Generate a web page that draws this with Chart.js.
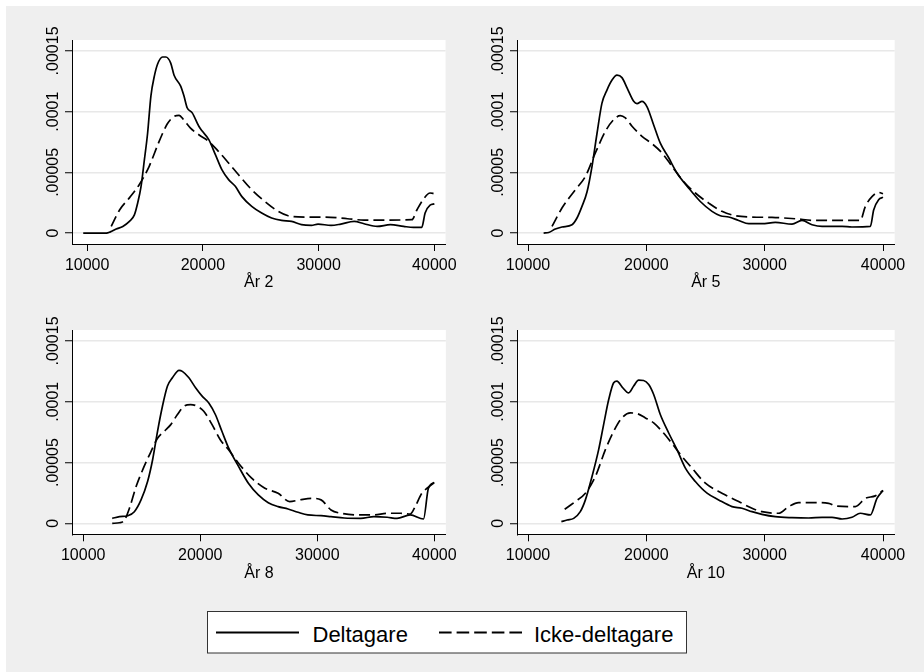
<!DOCTYPE html>
<html>
<head>
<meta charset="utf-8">
<script src="https://cdn.jsdelivr.net/npm/chart.js@4/dist/chart.umd.min.js"></script>
<style>
  html, body { margin:0; padding:0; background:#fff; width:924px; height:672px; overflow:hidden; }
  #bg { position:absolute; left:6px; top:6px; width:918px; height:666px; background:#efefef; }
  canvas { position:absolute; }
  #legend { position:absolute; left:0; top:0; }
</style>
</head>
<body>
<div id="bg"></div>
<canvas id="c1" width="462" height="300" style="left:0px;top:0px"></canvas>
<canvas id="c2" width="462" height="300" style="left:462px;top:0px"></canvas>
<canvas id="c3" width="462" height="300" style="left:0px;top:300px"></canvas>
<canvas id="c4" width="462" height="300" style="left:462px;top:300px"></canvas>
<svg id="legend" width="924" height="672">
  <rect x="207.5" y="611.5" width="479" height="41.5" fill="#fff" stroke="#333" stroke-width="1"/>
  <line x1="216" y1="632.5" x2="299" y2="632.5" stroke="#000" stroke-width="2"/>
  <text id="lg1" x="312.5" y="641.5" font-family="Liberation Sans, Arial, sans-serif" font-size="22" fill="#000"></text>
  <line x1="439" y1="632.5" x2="522" y2="632.5" stroke="#000" stroke-width="2" stroke-dasharray="12.6 5"/>
  <text id="lg2" x="534" y="641.5" font-family="Liberation Sans, Arial, sans-serif" font-size="22" fill="#000"></text>
</svg>
<script>
// ---------- data ----------
const seriesNames = ['Deltagare', 'Icke-deltagare'];
const panelTitles = ['År 2', 'År 5', 'År 8', 'År 10'];
const xTickValues = [10000, 20000, 30000, 40000];
const xTickLabels = ['10000', '20000', '30000', '40000'];
const yTickValues = [0, 0.00005, 0.0001, 0.00015];
const yTickLabels = ['0', '.00005', '.0001', '.00015'];

// År 2
const ar2DeltX = [9660,11660,12000,12510,13080,13650,14080,14370,14650,14940,15220,15510,15800,16080,16510,16800,17220,17510,18080,18360,18650,19080,19650,19940,20510,21080,21650,22220,22800,23370,24220,25080,25940,26800,27660,28520,29380,29950,31070,31920,33070,33920,35060,36200,37340,38200,38910,39200,39630,40000];
const ar2DeltY = [0,0,1e-6,3.3e-6,5.5e-6,9.6e-6,1.5e-5,2.5e-5,3.8e-5,6.0e-5,8.2e-5,1.13e-4,1.29e-4,1.39e-4,1.45e-4,1.45e-4,1.40e-4,1.30e-4,1.21e-4,1.13e-4,1.03e-4,9.9e-5,8.8e-5,8.4e-5,7.7e-5,6.46e-5,5.2e-5,4.4e-5,3.85e-5,3.0e-5,2.2e-5,1.65e-5,1.24e-5,1.04e-5,9.6e-6,6.9e-6,6.3e-6,7.4e-6,6.3e-6,7.4e-6,9.6e-6,7.7e-6,5.5e-6,6.9e-6,5.5e-6,4.7e-6,4.7e-6,1.65e-5,2.3e-5,2.4e-5];
const ar2IckeX = [12080,12800,13650,14510,15360,16220,16930,17510,17940,18360,18930,19650,20510,21370,22220,23080,24220,25360,26510,27370,28800,30500,32500,33920,35920,38060,38490,39060,39630,40000];
const ar2IckeY = [5.5e-6,1.9e-5,2.9e-5,4.0e-5,5.5e-5,7.55e-5,9.0e-5,9.6e-5,9.7e-5,9.3e-5,8.65e-5,8.1e-5,7.55e-5,6.7e-5,5.77e-5,4.8e-5,3.57e-5,2.6e-5,1.79e-5,1.43e-5,1.32e-5,1.32e-5,1.18e-5,1.07e-5,1.07e-5,1.1e-5,1.9e-5,2.8e-5,3.3e-5,3.24e-5];

// År 5
const ar5DeltX = [11320,11750,12310,12870,13720,14140,14560,14990,15410,15830,16250,16680,17100,17520,17940,18370,18930,19210,19630,20060,20620,21180,21890,22590,23580,24560,25550,26250,26960,27800,28650,29770,30900,32310,33150,34000,34850,36540,37380,38930,39210,39630,40000];
const ar5DeltY = [0,0.5e-6,3.3e-6,5e-6,6.9e-6,1.24e-5,2.2e-5,3.4e-5,5.5e-5,8.2e-5,1.07e-4,1.18e-4,1.26e-4,1.30e-4,1.28e-4,1.195e-4,1.085e-4,1.066e-4,1.085e-4,1.04e-4,8.9e-5,7.4e-5,6.2e-5,4.95e-5,3.7e-5,2.6e-5,1.79e-5,1.43e-5,1.32e-5,1.04e-5,7.7e-6,7.7e-6,8.8e-6,7.4e-6,1.04e-5,6.9e-6,5.5e-6,5.5e-6,5e-6,5.5e-6,1.9e-5,2.75e-5,2.94e-5];
const ar5IckeX = [12030,12870,14000,14850,15690,16540,17240,17800,18230,18790,19630,20480,21320,22170,23010,24140,25270,26390,27520,28930,30620,32590,34280,36250,38080,38510,39070,39630,40000];
const ar5IckeY = [5.5e-6,2.06e-5,3.57e-5,4.67e-5,6.6e-5,8.38e-5,9.34e-5,9.67e-5,9.48e-5,8.8e-5,7.97e-5,7.36e-5,6.6e-5,5.5e-5,4.4e-5,3.3e-5,2.47e-5,1.79e-5,1.43e-5,1.32e-5,1.29e-5,1.18e-5,1.04e-5,1.04e-5,1.04e-5,2.2e-5,3.0e-5,3.35e-5,3.24e-5];

// År 8
const ar8DeltX = [12480,13100,13810,14370,14940,15500,15930,16350,16770,17200,17620,18190,18470,19030,19600,20160,20730,21290,21850,22420,23270,24110,24960,25810,26650,27500,28350,29190,30320,31170,32300,33710,34840,35970,36810,37940,39070,39490,40000];
const ar8DeltY = [4.1e-6,5.5e-6,6.3e-6,9.6e-6,1.93e-5,3.44e-5,5.23e-5,7.57e-5,9.63e-5,1.129e-4,1.197e-4,1.258e-4,1.25e-4,1.197e-4,1.115e-4,1.046e-4,9.9e-5,8.95e-5,7.57e-5,6.2e-5,4.68e-5,3.3e-5,2.34e-5,1.7e-5,1.38e-5,1.18e-5,9.1e-6,6.9e-6,6.3e-6,5.5e-6,4.4e-6,4.1e-6,5.5e-6,5e-6,4.1e-6,6.9e-6,3.6e-6,2.89e-5,3.36e-5];
const ar8IckeX = [12480,13100,13530,13950,14520,15080,15790,16350,17060,17480,18050,18610,19180,19740,20300,21010,21710,22420,23270,24390,25520,26650,27640,28490,29470,30320,31170,32020,33430,34840,35970,37100,37940,38360,38930,39490,40000];
const ar8IckeY = [0,0.5e-6,2.8e-6,1.24e-5,3.03e-5,4.4e-5,5.9e-5,7.0e-5,7.7e-5,8.12e-5,8.95e-5,9.63e-5,9.77e-5,9.63e-5,9.22e-5,8.12e-5,6.88e-5,6.05e-5,4.95e-5,3.72e-5,2.89e-5,2.48e-5,1.79e-5,1.93e-5,2.06e-5,1.93e-5,1.1e-5,8.3e-6,6.9e-6,6.9e-6,8.3e-6,8.3e-6,7.7e-6,1.38e-5,2.48e-5,2.97e-5,3.36e-5];

// År 10
const ar10DeltX = [12820,13300,13860,14420,14850,15410,15970,16390,16820,17240,17520,17940,18510,18930,19350,19770,20200,20620,21180,21890,22590,23300,24140,25130,26110,27240,28080,28930,29770,30900,32310,33720,34850,35690,36540,37380,38080,38930,39490,40000];
const ar10DeltY = [1.4e-6,2.8e-6,4.1e-6,9.6e-6,1.93e-5,3.85e-5,6.06e-5,8.12e-5,1.018e-4,1.156e-4,1.17e-4,1.123e-4,1.073e-4,1.129e-4,1.178e-4,1.175e-4,1.142e-4,1.06e-4,8.95e-5,7.43e-5,6.06e-5,4.54e-5,3.44e-5,2.48e-5,1.93e-5,1.38e-5,1.24e-5,9.6e-6,7.4e-6,5.5e-6,4.7e-6,4.4e-6,5e-6,5e-6,3.6e-6,5e-6,8.3e-6,6.9e-6,2.06e-5,2.7e-5];
const ar10IckeX = [13100,14000,14850,15690,16540,17240,17940,18650,19210,19920,20620,21320,22030,23010,23860,24990,26390,27800,28930,29770,31180,32030,32870,34000,35410,35970,37660,38510,39350,40000];
const ar10IckeY = [1.16e-5,1.79e-5,2.48e-5,3.85e-5,6.06e-5,7.57e-5,8.67e-5,9.08e-5,9.03e-5,8.67e-5,8.26e-5,7.57e-5,6.74e-5,5.5e-5,4.54e-5,3.3e-5,2.48e-5,1.79e-5,1.24e-5,9.6e-6,8.3e-6,1.38e-5,1.71e-5,1.71e-5,1.65e-5,1.43e-5,1.38e-5,2.06e-5,2.26e-5,2.7e-5];

// ---------- rendering ----------
const FONT = '"Liberation Sans", Arial, sans-serif';
document.getElementById('lg1').textContent = seriesNames[0];
document.getElementById('lg2').textContent = seriesNames[1];

const plotBg = {
  id: 'plotBg',
  beforeDraw(chart) {
    const {ctx, chartArea: a} = chart;
    ctx.save();
    ctx.fillStyle = '#ffffff';
    ctx.fillRect(a.left, a.top, a.right - a.left, a.bottom - a.top);
    ctx.restore();
  }
};
const yLabels = {
  id: 'yLabels',
  afterDraw(chart) {
    const ys = chart.scales.y, ctx = chart.ctx;
    ctx.save();
    ctx.font = '16px ' + FONT;
    ctx.fillStyle = '#000';
    ctx.textAlign = 'center';
    ctx.textBaseline = 'alphabetic';
    ys.ticks.forEach((t, i) => {
      const py = ys.getPixelForValue(t.value);
      ctx.save();
      ctx.translate(ys.right - 13.7, py);
      ctx.rotate(-Math.PI / 2);
      ctx.fillText(yTickLabels[i], 0, 0);
      ctx.restore();
    });
    ctx.restore();
  }
};

function pts(xs, ys) { return xs.map((x, i) => ({x: x, y: ys[i]})); }

function makePanel(id, title, dX, dY, iX, iY, xmin, xmax, yAxisW, xAxisH, pad) {
  new Chart(document.getElementById(id), {
    type: 'line',
    data: {
      datasets: [
        { label: seriesNames[1], data: pts(iX, iY), borderColor: '#000', borderWidth: 1.7, borderDash: [11, 5], pointRadius: 0, fill: false, cubicInterpolationMode: 'monotone' },
        { label: seriesNames[0], data: pts(dX, dY), borderColor: '#000', borderWidth: 1.7, pointRadius: 0, fill: false, cubicInterpolationMode: 'monotone' }
      ]
    },
    options: {
      responsive: false, animation: false, devicePixelRatio: 1,
      layout: { padding: pad },
      plugins: { legend: { display: false }, tooltip: { enabled: false } },
      scales: {
        x: {
          type: 'linear', min: xmin, max: xmax,
          afterBuildTicks: s => { s.ticks = xTickValues.map(v => ({ value: v })); },
          afterFit: s => { s.height = xAxisH; },
          ticks: { callback: (v, i) => xTickLabels[i], font: { family: FONT, size: 16 }, color: '#000', padding: 5, maxRotation: 0, minRotation: 0, autoSkip: false },
          grid: { drawOnChartArea: false, drawTicks: true, tickLength: 7, tickColor: '#000', tickWidth: 1 },
          border: { display: true, color: '#000', width: 1 },
          title: { display: true, text: title, font: { family: FONT, size: 16 }, color: '#000', padding: { top: 0, bottom: 0 } }
        },
        y: {
          type: 'linear', min: -0.000009, max: 0.000159,
          afterBuildTicks: s => { s.ticks = yTickValues.map(v => ({ value: v })); },
          afterFit: s => { s.width = yAxisW; },
          ticks: { display: false },
          grid: { color: 'rgb(232,232,232)', lineWidth: 1.5, drawTicks: true, tickLength: 7, tickColor: '#000', tickWidth: 1 },
          border: { display: true, color: '#000', width: 1 }
        }
      }
    },
    plugins: [plotBg, yLabels]
  });
}

makePanel('c1', panelTitles[0], ar2DeltX, ar2DeltY, ar2IckeX, ar2IckeY, 8690, 40967, 72, 48, { left: 0, top: 40, right: 13, bottom: 8 });
makePanel('c2', panelTitles[1], ar5DeltX, ar5DeltY, ar5IckeX, ar5IckeY, 9070, 40988, 55, 48, { left: 0, top: 40, right: 29.3, bottom: 8 });
makePanel('c3', panelTitles[2], ar8DeltX, ar8DeltY, ar8IckeX, ar8IckeY, 9043, 40982, 72, 49, { left: 0, top: 30, right: 12.7, bottom: 16.7 });
makePanel('c4', panelTitles[3], ar10DeltX, ar10DeltY, ar10IckeX, ar10IckeY, 9070, 40988, 55, 49, { left: 0, top: 30, right: 29.3, bottom: 16.7 });
</script>
</body>
</html>
